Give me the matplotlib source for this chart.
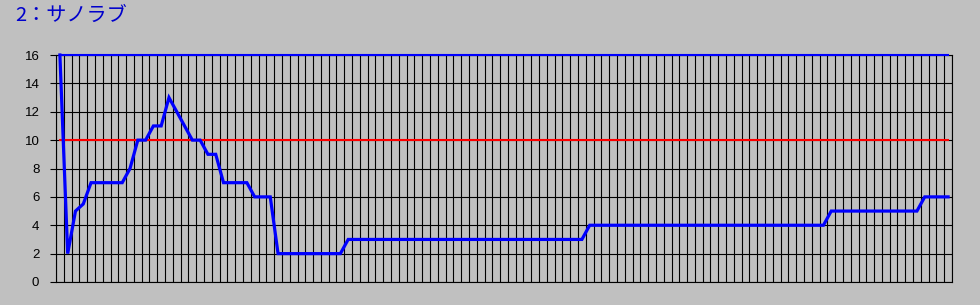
import matplotlib
matplotlib.use('Agg')
import matplotlib.pyplot as plt
import numpy as np

# ranking per race
ranks = ([16, 2, 5, 5.5] + [7] * 5 + [8, 10, 10, 11, 11, 13, 12, 11, 10, 10, 9, 9]
         + [7] * 4 + [6] * 3 + [2] * 9 + [3] * 31 + [4] * 31 + [5] * 12 + [6] * 4)
upper_line = 16
border_line = 10
y_ticks = [0, 2, 4, 6, 8, 10, 12, 14, 16]
title = '2：サノラブ'

n = len(ranks)
x = np.arange(n)

bg = '#C0C0C0'
fig = plt.figure(figsize=(9.8, 3.05), dpi=100, facecolor=bg)
ax = fig.add_axes([56 / 980, 23 / 305, 896 / 980, 227 / 305])
ax.set_facecolor(bg)

# reference lines
ax.plot(x, [upper_line] * n, color='#0000FF', lw=1.5, zorder=4, clip_on=False)
ax.plot(x, [border_line] * n, color='#FF0000', lw=1.5, zorder=3)
# data
ax.plot(x, ranks, color='#0000FF', lw=2.3, zorder=5, clip_on=False,
        solid_joinstyle='miter')

ax.set_xlim(-0.5, n - 0.5)
ax.set_ylim(0, 16)
ax.set_xticks(np.arange(-0.5, n, 1.0))
ax.set_xticklabels([])
ax.tick_params(axis='x', length=0)
ax.set_yticks(y_ticks)
ax.set_yticklabels([str(v) for v in y_ticks], fontsize=9.5, family='Liberation Sans')
ax.tick_params(axis='y', length=4, width=0.8, color='black', pad=8)
ax.grid(True, color='black', lw=0.8, zorder=1)
ax.set_axisbelow(True)
for s in ax.spines.values():
    s.set_color('black')
    s.set_linewidth(0.8)

fig.text(15 / 980, 1 - 15 / 305, title, color='#0000CC', fontsize=14.5,
         family=['Noto Sans CJK JP', 'DejaVu Sans'], va='center', ha='left')

fig.savefig('out.png', dpi=100, facecolor=bg)
